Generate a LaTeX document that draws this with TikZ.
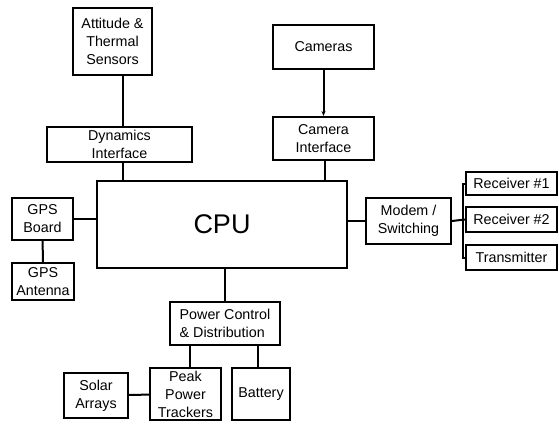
\documentclass[tikz,border=0pt]{standalone}
\usepackage{fontspec}
\setmainfont{Liberation Sans}
\usepackage{tikz}
\usetikzlibrary{arrows.meta,positioning,calc}

\begin{document}
\begin{tikzpicture}[x=1pt, y=-1pt, line width=2pt,
  blk/.style={draw, rectangle, inner sep=0pt, align=center,
    font=\fontsize{14.3}{18}\selectfont},
  wire/.style={line width=2pt}]
  \useasboundingbox (0,0) rectangle (559,423);
  % Blocks
  \node[blk, fill=white, minimum width=250pt, minimum height=87pt,
    font=\fontsize{27}{30}\selectfont] (cpu) at (222,224.5) {CPU};
  \node[blk, minimum width=79pt, minimum height=67pt]
    (att) at (112.5,41.5) {Attitude \&\\Thermal\\Sensors};
  \node[blk, minimum width=145pt, minimum height=35pt]
    (dyn) at (119.5,144.5) {Dynamics\\Interface};
  \node[blk, minimum width=101pt, minimum height=44pt]
    (cam) at (323.5,47) {Cameras};
  \node[blk, minimum width=101pt, minimum height=43pt]
    (camif) at (323.5,138.5) {Camera\\Interface};
  \node[blk, minimum width=61pt, minimum height=42pt]
    (gpsb) at (42.5,219) {GPS\\Board};
  \node[blk, minimum width=62pt, minimum height=37pt]
    (gpsa) at (43,281.5) {GPS\\Antenna};
  \node[blk, minimum width=85pt, minimum height=46pt]
    (modem) at (408.5,221) {Modem /\\Switching};
  \node[blk, minimum width=91pt, minimum height=23pt]
    (rx1) at (511.5,183.5) {Receiver \#1};
  \node[blk, minimum width=91pt, minimum height=25pt]
    (rx2) at (511.5,219.5) {Receiver \#2};
  \node[blk, minimum width=91pt, minimum height=25pt]
    (tx) at (511.5,257.5) {Transmitter};
  \node[blk, align=left, minimum width=110pt, minimum height=43pt]
    (power) at (225,323.5) {Power Control\\\& Distribution};
  \node[blk, minimum width=71pt, minimum height=52pt]
    (peak) at (185.5,394) {Peak\\Power\\Trackers};
  \node[blk, minimum width=58pt, minimum height=52pt]
    (batt) at (261,394) {Battery};
  \node[blk, minimum width=64pt, minimum height=45pt]
    (solar) at (96,395.5) {Solar\\Arrays};
  % Connectors
  \draw[wire] ([xshift=10.5pt]att.south) -- ([xshift=10.5pt]att.south |- dyn.north);
  \draw[wire] ([xshift=3.5pt]dyn.south) -- ([xshift=3.5pt]dyn.south |- cpu.north);
  \draw[wire, -{Stealth[length=5pt, width=4pt]}] (cam) -- (camif);
  \draw[wire] ([xshift=1.5pt]camif.south) -- ([xshift=1.5pt]camif.south |- cpu.north);
  \draw[wire] (gpsb.east) -- (gpsb.east -| cpu.west);
  \draw[wire] (gpsb) -- (gpsa);
  \draw[wire] (modem.west -| cpu.east) -- (modem.west);
  \coordinate (bus) at (463,220);
  \draw[wire] (modem.east) -- (rx2.west);
  \draw[wire] (rx1.west) -| (bus) |- (tx.west);
  \draw[wire] (power.north |- cpu.south) -- (power.north);
  \draw[wire] ([xshift=4.5pt]peak.north) -- ([xshift=4.5pt]peak.north |- power.south);
  \draw[wire] ([xshift=-3pt]batt.north) -- ([xshift=-3pt]batt.north |- power.south);
  \draw[wire] (solar) -- (peak);
\end{tikzpicture}
\end{document}
